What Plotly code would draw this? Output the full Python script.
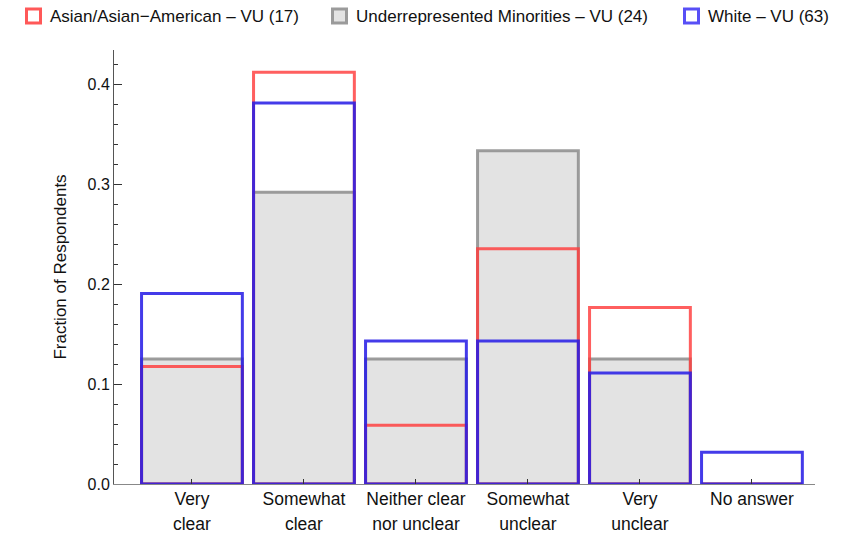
import plotly.graph_objects as go

categories = ["Very clear", "Somewhat clear", "Neither clear nor unclear",
              "Somewhat unclear", "Very unclear", "No answer"]
tick_labels = ["Very<br>clear", "Somewhat<br>clear", "Neither clear<br>nor unclear",
               "Somewhat<br>unclear", "Very<br>unclear", "No answer"]

asian_name = "Asian/Asian\u2212American \u2013 VU (17)"
urm_name = "Underrepresented Minorities \u2013 VU (24)"
white_name = "White \u2013 VU (63)"

asian_vals = [0.1176, 0.4118, 0.0588, 0.2353, 0.1765, 0.0]
urm_vals = [0.125, 0.2917, 0.125, 0.3333, 0.125, 0.0]
white_vals = [0.1905, 0.3810, 0.1429, 0.1429, 0.1111, 0.0317]

FONT = "Liberation Sans, Arial, sans-serif"
BAR_W = 0.9
W, H = 856, 537
ML, MR, MT, MB = 114, 41, 50, 53
PW, PH = W - ML - MR, H - MT - MB

RED_LINE = "rgba(255,60,60,0.82)"
GRAY_LINE = "rgba(140,140,140,0.85)"
GRAY_FILL = "#e3e3e3"
BLUE_LINE = "rgba(40,30,230,0.87)"

fig = go.Figure()

fig.add_trace(go.Bar(
    x=categories, y=urm_vals, name=urm_name, width=BAR_W,
    marker=dict(color=GRAY_FILL, line=dict(color=GRAY_LINE, width=3)),
))
fig.add_trace(go.Bar(
    x=categories, y=asian_vals, name=asian_name, width=BAR_W,
    marker=dict(color="rgba(0,0,0,0)", line=dict(color=RED_LINE, width=3)),
))
fig.add_trace(go.Bar(
    x=categories, y=white_vals, name=white_name, width=BAR_W,
    marker=dict(color="rgba(0,0,0,0)", line=dict(color=BLUE_LINE, width=3)),
))

span = "<span style='font-size:17.5px'>{}</span>"
ticktext = ["<br>".join(span.format(p) for p in t.split("<br>")) for t in tick_labels]


def px_x(px):
    return (px - ML) / PW


def px_y(py):
    return (H - MB - py) / PH


# legend drawn as swatches + labels above the plot
legend_items = [
    (asian_name, "white", "rgba(255,70,70,0.9)", 25),
    (urm_name, GRAY_FILL, "rgba(150,150,150,0.95)", 331),
    (white_name, "white", "rgba(70,60,245,0.9)", 683),
]
shapes = []
annotations = []
for name, fill, line, x0 in legend_items:
    shapes.append(dict(type="rect", xref="paper", yref="paper",
                       x0=px_x(x0 + 1.5), x1=px_x(x0 + 15.5),
                       y0=px_y(23), y1=px_y(9),
                       fillcolor=fill, line=dict(color=line, width=3)))
    annotations.append(dict(text=name, xref="paper", yref="paper",
                            x=px_x(x0 + 23), y=px_y(16), xanchor="left", yanchor="middle",
                            showarrow=False, font=dict(size=17, family=FONT, color="#111")))

fig.update_layout(
    barmode="overlay",
    width=W, height=H,
    margin=dict(l=ML, r=MR, t=MT, b=MB, autoexpand=False),
    paper_bgcolor="white", plot_bgcolor="white",
    font=dict(family=FONT, size=16, color="#111"),
    showlegend=False,
    shapes=shapes,
    annotations=annotations,
    xaxis=dict(
        type="category", categoryorder="array", categoryarray=categories,
        range=[-0.696, 5.563],
        tickvals=categories, ticktext=ticktext,
        tickfont=dict(size=19, family=FONT, color="#111"),
        ticks="inside", ticklen=5, tickcolor="#333", tickwidth=1,
        ticklabelstandoff=-3,
        showline=True, linecolor="#888", linewidth=1,
        showgrid=False, zeroline=False, automargin=False,
    ),
    yaxis=dict(
        range=[0, 0.434], dtick=0.1, tickformat=".1f",
        tickfont=dict(size=16, family=FONT, color="#111"),
        ticks="inside", ticklen=8, tickcolor="#333", tickwidth=1,
        minor=dict(dtick=0.02, ticks="inside", ticklen=4, tickcolor="#333"),
        showline=True, linecolor="#555", linewidth=1,
        showgrid=False, zeroline=False, automargin=False,
        title=dict(text="Fraction of Respondents", font=dict(size=17, family=FONT, color="#111"),
                   standoff=16),
    ),
)

fig.write_html("out.html", config={"displayModeBar": False},
               post_script="document.body.style.margin='0px';")
